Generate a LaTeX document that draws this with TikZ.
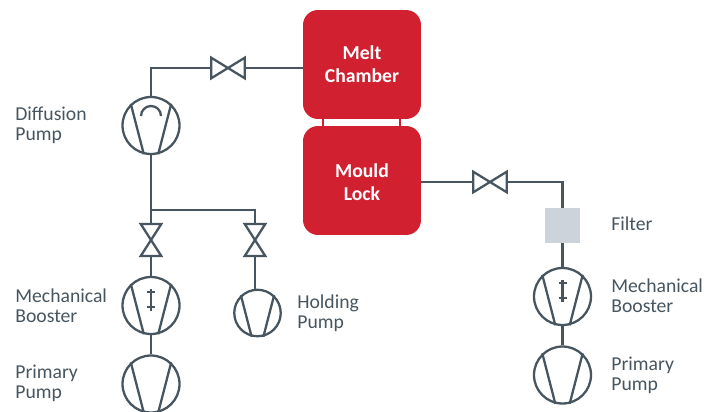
\documentclass[tikz,border=0pt]{standalone}
\usepackage{fontspec}
\setmainfont{Carlito}
\definecolor{pipegrey}{HTML}{46555F}
\definecolor{chamberred}{HTML}{D12030}
\definecolor{filtergrey}{HTML}{CCD3DA}
\tikzset{
pipe/.style = {draw=pipegrey, line width = 1.3pt},
pump/.style = {circle, pipe, inner sep = 0pt, minimum size = 1.14cm},
smallpump/.style = {pump, minimum size = 0.93cm},
valve/.style = {inner sep = 0pt, minimum width = 0.66cm, minimum height = 0.4cm},
upvalve/.style = {inner sep = 0pt, minimum width = 0.4cm, minimum height = 0.63cm},
chamber/.style = {fill=chamberred, rounded corners = 0.3cm, minimum width = 2.36cm, minimum height = 2.18cm, inner sep = 0pt, text=white, align=center, font=\fontsize{11.2}{13}\selectfont\bfseries},
filterbox/.style = {fill=filtergrey, minimum size = 0.7cm, inner sep = 0pt},
tag/.style = {right, inner sep = 0pt, text=pipegrey, align=left, font=\fontsize{11.2}{11.2}\selectfont}
}
\newcommand{\vanes}[1]{\draw[pipe] (#1.133) -- (#1.256) (#1.47) -- (#1.284);}
\newcommand{\rotor}[1]{\draw[pipe] ([yshift=0.33cm]#1.center) -- ([yshift=-0.1cm]#1.center)
 ([xshift=-0.08cm,yshift=0.27cm]#1.center) -- ([xshift=0.08cm,yshift=0.27cm]#1.center)
 ([xshift=-0.08cm,yshift=-0.03cm]#1.center) -- ([xshift=0.08cm,yshift=-0.03cm]#1.center);}
\newcommand{\sidebow}[1]{\draw[pipe] (#1.south west) -- (#1.north east) -- (#1.south east) -- (#1.north west) -- cycle;}
\newcommand{\upbow}[1]{\draw[pipe] (#1.north west) -- (#1.south east) -- (#1.south west) -- (#1.north east) -- cycle;}
\begin{document}
\begin{tikzpicture} [x = 0.02cm, y = -0.02cm]
\useasboundingbox (0, 0) rectangle (720, 412);
\node[chamber] (melt) at (362, 64.5){Melt\\Chamber};
\node[chamber] (mould) at (362, 180.5){};
\node[text=white, font=\fontsize{11.2}{13.2}\selectfont\bfseries, align=center, inner sep=0pt] (mouldtxt) at (362, 182){Mould\\Lock};
\draw[chamberred, line width = 1.1pt] (melt.south -| 323, 0) -- (mould.north -| 323, 0);
\draw[chamberred, line width = 1.1pt] (melt.south -| 400, 0) -- (mould.north -| 400, 0);
\node[pump] (diff) at (151, 125.5){};
\node[pump] (boostL) at (151, 305.5){};
\node[pump] (primL) at (151, 384){};
\node[smallpump] (hold) at (257.5, 313){};
\node[pump] (boostR) at (562.5, 296.5){};
\node[pump] (primR) at (562.5, 375){};
\node[filterbox] (filt) at (562.5, 225.5){};
\node[valve] (vTop) at (228, 68){};
\node[valve] (vRight) at (490, 182){};
\node[upvalve] (vLeft) at (151, 240){};
\node[upvalve] (vHold) at (255, 240){};
\coordinate (cornerTop) at (151, 68);
\coordinate (tee) at (151, 210);
\coordinate (cornerHold) at (255, 210);
\coordinate (cornerRight) at (562.5, 182);
\vanes{diff}
\vanes{boostL}
\vanes{primL}
\vanes{hold}
\vanes{boostR}
\vanes{primR}
\rotor{boostL}
\rotor{boostR}
\draw[pipe] ([xshift=-0.2cm,yshift=0.19cm]diff.center) arc (180:0:0.2cm);
\sidebow{vTop}
\sidebow{vRight}
\upbow{vLeft}
\upbow{vHold}
\draw[pipe] (diff.north) -- (cornerTop) -- (vTop.west);
\draw[pipe] (vTop.east) -- (vTop.east -| melt.west);
\draw[pipe] (diff.south) -- (vLeft.north);
\draw[pipe] (tee) -- (cornerHold) -- (vHold.north);
\draw[pipe] (vLeft.south) -- (boostL.north);
\draw[pipe] (boostL.south) -- (primL.north);
\draw[pipe] (vHold.south) -- (vHold.south |- hold.north);
\draw[pipe] (vRight.west -| mould.east) -- (vRight.west);
\draw[pipe] (vRight.east) -- (cornerRight) -- (filt.north);
\draw[pipe] (filt.south) -- (boostR.north);
\draw[pipe] (boostR.south) -- (primR.north);
\node[tag] (lblDiff) at (15, 125.5){Diffusion\\Pump};
\node[tag] (lblBoostL) at (15, 305.5){Mechanical\\Booster};
\node[tag] (lblPrimL) at (15, 383.5){Primary\\Pump};
\node[tag] (lblHold) at (297, 313.5){Holding\\Pump};
\node[tag] (lblFilt) at (611, 224){Filter};
\node[tag] (lblBoostR) at (611, 296){Mechanical\\Booster};
\node[tag] (lblPrimR) at (611, 375){Primary\\Pump};
\end{tikzpicture}
\end{document}
